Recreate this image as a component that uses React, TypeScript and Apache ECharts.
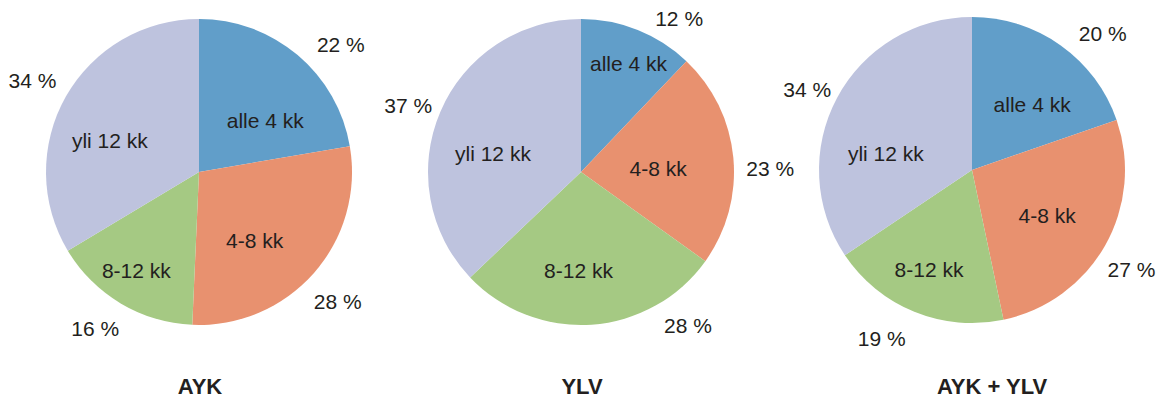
import React, { useEffect, useRef } from "react";
import * as echarts from "echarts";

const categories = ["alle 4 kk", "4-8 kk", "8-12 kk", "yli 12 kk"];
const chartTitles = ["AYK", "YLV", "AYK + YLV"];
const aykValues = [22.3, 28.4, 15.7, 33.6];
const ylvValues = [12.1, 22.8, 28.0, 37.1];
const totalValues = [19.7, 27.0, 18.9, 34.4];
const colors = ["#619ec9", "#e8916f", "#a5c983", "#bec3de"];

const pies = [
  {
    values: aykValues,
    center: [199, 172],
    titleX: 200,
    innerOff: [[15, 9], [-4, 16], [-22, 30], [-20, 8]],
    pctOff: [[20, 17], [-3, 5], [-7, -6], [-2, 2]],
  },
  {
    values: ylvValues,
    center: [581, 172],
    titleX: 582,
    innerOff: [[18, -35], [-2, 4], [-8, 19], [-15, 13]],
    pctOff: [[28, 22], [1, 14], [94, -35], [1, 8]],
  },
  {
    values: totalValues,
    center: [972, 170],
    titleX: 992,
    innerOff: [[14, -1], [6, 6], [-13, 26], [-16, 21]],
    pctOff: [[21, 17], [-5, 6], [-19, -7], [2, 8]],
  },
];

const FONT = "'Liberation Sans', Arial, Helvetica, sans-serif";
const TEXT = "#231f20";

export default function App() {
  const ref = useRef<HTMLDivElement>(null);
  useEffect(() => {
    document.body.style.margin = "0";
    if (!ref.current) return;
    const chart = echarts.init(ref.current, undefined, { renderer: "svg" });
    const series: any[] = [];
    pies.forEach((p) => {
      const data = categories.map((name, i) => ({
        name,
        value: p.values[i],
        itemStyle: { color: colors[i] },
      }));
      series.push({
        type: "pie",
        center: p.center,
        radius: [0, 153],
        startAngle: 90,
        clockwise: true,
        avoidLabelOverlap: false,
        silent: true,
        data,
        itemStyle: { borderWidth: 0 },
        label: {
          show: true,
          position: "inside",
          formatter: "{b}",
          color: TEXT,
          fontSize: 21,
          fontFamily: FONT,
        },
        labelLine: { show: false },
        labelLayout: (params: any) => {
          const o = p.innerOff[params.dataIndex];
          return { dx: o[0], dy: o[1] };
        },
        emphasis: { disabled: true },
      });
      series.push({
        type: "pie",
        center: p.center,
        radius: [160, 212],
        startAngle: 90,
        clockwise: true,
        avoidLabelOverlap: false,
        silent: true,
        data: categories.map((name, i) => ({ name, value: p.values[i] })),
        itemStyle: { color: "rgba(0,0,0,0)", borderWidth: 0 },
        label: {
          show: true,
          position: "inside",
          formatter: (params: any) => Math.round(params.value) + " %",
          color: TEXT,
          fontSize: 21,
          fontFamily: FONT,
        },
        labelLine: { show: false },
        labelLayout: (params: any) => {
          const o = p.pctOff[params.dataIndex];
          return { dx: o[0], dy: o[1] };
        },
        emphasis: { disabled: true },
      });
    });
    chart.setOption({
      animation: false,
      backgroundColor: "#ffffff",
      title: pies.map((p, i) => ({
        text: chartTitles[i],
        left: p.titleX,
        top: 375,
        padding: 0,
        textAlign: "center",
        textStyle: {
          fontSize: 22,
          fontWeight: "bold",
          color: TEXT,
          fontFamily: FONT,
        },
      })),
      series,
    });
    return () => chart.dispose();
  }, []);
  return <div ref={ref} style={{ width: 1158, height: 401 }} />;
}
